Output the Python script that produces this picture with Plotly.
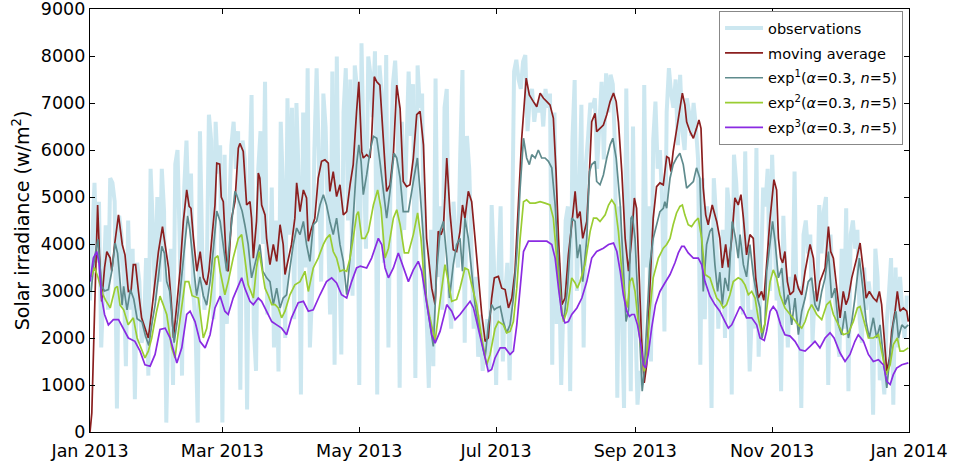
import pandas as pd
import plotly.graph_objects as go

# ---------------- data ----------------
START = "2013-01-01"

obs_jan = [2800, 4200, 5300, 3600, 4900, 1800, 3400, 4400, 2600, 5400, 5300, 4900, 500, 4600, 4200, 3300,
           1400, 4500, 2600, 3900, 700, 3600, 3200, 1900, 2100, 3700, 1200, 5600, 4400, 2800, 5000]
obs_feb = [3200, 5600, 4700, 200, 2600, 3900, 1000, 5700, 6000, 4000, 1200, 5200, 6200, 4600, 5500, 3000,
           2300, 200, 6400, 3900, 2600, 3200, 6750, 6200, 2400, 6600, 5500, 6100]
obs_mar = [200, 5900, 2300, 4600, 6100, 6600, 5600, 6400, 900, 6200, 5800, 480, 5200, 7170, 2200, 1300,
           5600, 6400, 4000, 7450, 2500, 3000, 5200, 1800, 4500, 1290, 6600, 5200, 2000, 7100, 4200]
obs_apr = [6900, 2400, 7000, 5400, 800, 6800, 3500, 7740, 1800, 3000, 6000, 7740, 5800, 3200, 7200, 6500,
           4600, 2500, 7670, 1430, 7990, 3900, 1650, 6800, 7740, 4500, 7500, 2900, 7800, 7300]
obs_may = [1000, 8270, 5800, 3900, 7990, 7600, 6700, 8100, 800, 7800, 7200, 3600, 8020, 1800, 5600, 7400,
           7900, 6800, 940, 6600, 4300, 5800, 7670, 6300, 7400, 1150, 7800, 6900, 7200, 3100, 2500]
obs_jun = [940, 4300, 1400, 7520, 3300, 4800, 2600, 6900, 7300, 3000, 2200, 4900, 4100, 3500, 5900, 7700,
           1900, 6300, 5600, 4200, 2200, 3300, 1600, 2500, 1300, 1800, 2400, 1300, 4830, 3600]
obs_jul = [1000, 3400, 4800, 1500, 2900, 3600, 1100, 3800, 7670, 7920, 7500, 7300, 7880, 8020, 6400, 7100,
           7300, 6600, 7000, 6800, 7200, 6500, 7300, 6900, 7200, 1430, 6800, 2300, 3600, 1000, 2600]
obs_aug = [4500, 4800, 870, 6200, 7490, 3000, 5200, 6960, 1800, 5700, 6300, 7000, 6900, 7100, 5600, 6400,
           7450, 5800, 7630, 6800, 7600, 7400, 6000, 730, 4800, 2600, 510, 7310, 3500, 870, 6500]
obs_sep = [2500, 580, 1300, 1000, 7380, 3500, 4800, 1500, 6200, 7030, 5600, 6000, 4900, 2140, 6800, 7740,
           7200, 6900, 7500, 6100, 7600, 6400, 6000, 7100, 6800, 6300, 7000, 6500, 5800, 1430]
obs_oct = [5400, 2400, 4800, 3900, 510, 5400, 4600, 2200, 3100, 4300, 2000, 5200, 4700, 800, 5900, 5300,
           4200, 3600, 2500, 5970, 3400, 1290, 2600, 2200, 6040, 1600, 3300, 5200, 4800, 5600, 3000]
obs_nov = [5900, 4400, 2800, 3100, 870, 4600, 3400, 1800, 3300, 2600, 5540, 2300, 3100, 510, 4200, 4500,
           3800, 4200, 1900, 3000, 2600, 4830, 3800, 4700, 5000, 1000, 4200, 3200, 2900, 2000]
obs_dec = [1600, 3900, 2200, 4760, 870, 4200, 4500, 3900, 4300, 2400, 1900, 3500, 2600, 3200, 2800, 370,
           3900, 3300, 1100, 1400, 800, 2300, 2900, 3700, 580, 3500, 1800, 3300, 2600, 2000, 2900]

# (day of year, value) samples of the smoothed curves
moving_avg = [(0, 0), (0.8, 400), (2, 2500), (3.4, 4830), (4.2, 3800), (5.2, 2780), (6.5, 3500), (7.5, 3840),
    (9, 3700), (9.7, 3420), (11, 4000), (12.7, 4620), (14.4, 3980), (15.6, 3770), (17.1, 2990), (18.3, 3000),
    (19.3, 3560), (20.3, 3560), (21.6, 2990), (23, 2430), (24.5, 2210), (26, 2000), (27.5, 2570), (29, 3200),
    (30.5, 3840), (32.3, 4370), (33.5, 3980), (35, 3490), (36.1, 2850), (37.2, 2000), (38.7, 2710),
    (40.1, 3420), (41.6, 4480), (43.1, 5150), (44.2, 4800), (45, 4760), (46.1, 4120), (47.6, 3420),
    (49.1, 3840), (50.5, 3280), (52, 3130), (53, 3420), (54.3, 4120), (55.7, 4830), (56.5, 5720),
    (57.8, 5700), (58.5, 5000), (59.4, 4900), (60.9, 3490), (61.6, 3420), (63.1, 4550), (64.6, 4900),
    (66.1, 6040), (66.8, 6140), (68.3, 5970), (69, 5470), (69.8, 4830), (71.3, 4900), (72, 4550),
    (72.8, 3700), (74.2, 4480), (75, 5510), (75.7, 5400), (76.5, 4830), (78, 4620), (78.7, 4120),
    (80.2, 3560), (81.7, 3990), (83.2, 3630), (84.7, 4410), (86.1, 3990), (86.9, 3350), (88.4, 3700),
    (89.8, 3990), (91.3, 4550), (92.1, 5300), (93.6, 4690), (95.1, 5150), (96.5, 4980), (97.3, 4060),
    (98.5, 4300), (100.2, 4550), (101.7, 5400), (103.2, 5760), (104.7, 5790), (106.2, 5720), (106.9, 5120),
    (108.4, 5540), (109.9, 5010), (111.4, 5260), (112.9, 4620), (114.4, 4690), (115.9, 5260), (117.3, 5690),
    (118.8, 6820), (119.8, 7450), (121.1, 5970), (121.8, 5830), (123.3, 5900), (124.8, 5830), (125.5, 6250),
    (126.7, 7560), (127.8, 7450), (129.2, 7380), (130.7, 6250), (132.2, 5120), (133.7, 5260), (135.2, 5900),
    (136.7, 7380), (138.2, 6880), (139.6, 5330), (141.1, 5220), (142.6, 5260), (144.1, 5830), (145.6, 6750),
    (147.1, 6820), (148.6, 6110), (150, 4120), (152.3, 3060), (153.8, 2710), (155.2, 4270), (156.4, 4200),
    (157.5, 4340), (159, 5830), (160.4, 4690), (161.9, 3880), (163.4, 3840), (164.9, 4270), (166, 4830),
    (167.1, 4550), (168.6, 5120), (170.1, 4900), (171.6, 4120), (173.1, 3280), (174.6, 2500), (176.1, 1930),
    (177.5, 2000), (179, 2850), (180.2, 3280), (182, 3310), (183.5, 3060), (185, 3030), (186.5, 2640),
    (188, 2850), (189.4, 3420), (190.9, 4830), (192.4, 6250), (194.4, 7530), (195.8, 7170), (197.6, 7030),
    (199.1, 6920), (200.6, 7210), (202.1, 7100), (203.6, 7030), (205, 6960), (206.5, 6680), (207.7, 5540),
    (208.8, 4120), (210.3, 2710), (211.7, 2850), (213.2, 3770), (214.7, 4410), (216.2, 5120), (217.2, 4550),
    (218.4, 4690), (219.6, 4120), (221.4, 4480), (222.6, 5540), (223.6, 6600), (225.1, 6780), (225.8, 6390),
    (227.3, 6460), (228.8, 6530), (230.3, 6750), (231.8, 7030), (233.3, 7210), (234.5, 7030), (235.5, 6600),
    (237, 5540), (238.5, 4120), (240, 3420), (241.4, 4120), (242.6, 4980), (243.6, 4760), (244.6, 3420),
    (245.8, 2000), (247, 1045), (248.1, 1430), (249.5, 3060), (251, 4550), (252.5, 5220), (254, 5300),
    (255.5, 5260), (257, 5860), (258, 5830), (258.9, 5540), (259.9, 5970), (261.4, 6460), (262.9, 6960),
    (264, 7210), (265.1, 6960), (265.9, 6600), (267.4, 6390), (268.9, 6250), (270.3, 6460), (271.4, 6640),
    (272.3, 6460), (273.3, 5190), (274.4, 4620), (275.5, 4410), (277.3, 4830), (279.3, 4480), (280.7, 4120),
    (281.8, 3490), (283.3, 3990), (284.5, 3500), (286, 4120), (287.4, 4980), (288.9, 4830), (290.1, 5050),
    (291.2, 4550), (292.6, 3770), (294.1, 4200), (295.6, 4120), (296.7, 3280), (297.8, 2850), (299.3, 2990),
    (300.3, 2800), (301.6, 3600), (303, 4500), (304.8, 5370), (306, 5150), (306.8, 4120), (307.8, 3700),
    (308.7, 3600), (309.7, 3840), (310.8, 3200), (312, 2920), (313.5, 2990), (314.2, 3350), (315.7, 3060),
    (317.2, 2920), (318.7, 3420), (320.9, 3990), (322.4, 3700), (323.9, 2780), (325.3, 3200), (327.6, 3490),
    (329.1, 4370), (330.1, 3840), (331.3, 3700), (333.1, 2990), (334.3, 2430), (335.7, 2990), (336.9, 2710),
    (338, 2850), (339.5, 3280), (341.7, 3700), (343.2, 4020), (344.7, 3420), (345.9, 2850), (347.3, 2990),
    (349.1, 2850), (350.6, 2780), (351.8, 2990), (352.8, 2710), (353.9, 2000), (355.1, 1290), (356.3, 1575),
    (357.3, 2140), (358.8, 2570), (359.8, 2990), (361, 2570), (362.5, 2640), (364, 2570), (364.7, 2350)]

exp1 = [(0.5, 3000), (2, 3700), (3.5, 4100), (5.2, 3100), (6.5, 3000), (8.2, 3030), (9.7, 3420), (11.2, 4020),
    (12.3, 3800), (14.3, 2700), (15, 3100), (16.5, 2600), (18, 3030), (19.5, 2830), (21, 2410), (23.2, 2340),
    (24.7, 2050), (26.2, 1840), (27.7, 2340), (29, 2700), (30.5, 3300), (32, 3950), (33.2, 3800), (34.2, 3200),
    (35.5, 3000), (36.5, 2400), (37.5, 1900), (39, 2400), (40.5, 3100), (42, 3800), (43.5, 4600), (44.5, 4300),
    (46, 3600), (47.5, 2900), (49, 3300), (50.5, 2900), (52, 2700), (53.5, 3200), (55, 3900), (56.5, 4700),
    (58, 4480), (59.4, 3990), (60.9, 3420), (62.4, 4120), (64.6, 5120), (65.3, 5050), (66.8, 4830),
    (67.8, 4700), (69, 4410), (70.5, 3990), (72, 3280), (73.5, 3560), (75, 3840), (75.7, 3990), (77, 3420),
    (78.7, 3280), (80.2, 3200), (81.7, 2710), (83.2, 3060), (84.7, 2640), (86.1, 2850), (87.6, 2920),
    (89.1, 3490), (90.6, 3990), (92.1, 4340), (93.6, 4200), (95.1, 4480), (96.5, 3990), (98, 3630),
    (99.5, 4410), (101, 4480), (102.5, 4830), (104, 5050), (105.4, 4830), (106.9, 4480), (108.4, 4200),
    (109.9, 4550), (111.4, 3990), (112.9, 3630), (114.4, 2920), (115.9, 3700), (117.3, 4550), (118.8, 5690),
    (119.8, 6110), (120.8, 5760), (121.8, 5050), (123.3, 5470), (124.8, 5970), (126.3, 6290), (127.8, 6250),
    (129.2, 5760), (130.7, 5120), (132.2, 4550), (133.7, 5120), (135.5, 5930), (136.7, 5830), (138.2, 5400),
    (139.6, 4690), (141.9, 4690), (144.1, 5330), (145.9, 5830), (147.1, 5120), (148.6, 4120), (150, 2780),
    (151.5, 2280), (153, 1820), (154.5, 3420), (156, 4270), (157.5, 4480), (159, 3700), (160.2, 2850),
    (161.9, 3560), (163.4, 3990), (164.9, 4120), (166, 3420), (167.1, 4550), (168.6, 4120), (170.1, 3420),
    (171.6, 2710), (173.1, 2280), (174.6, 1930), (176.1, 1575), (177.5, 2280), (179, 2710), (180.2, 2600),
    (181.3, 2640), (182.8, 2670), (184.2, 2350), (185.7, 2110), (187.2, 2280), (188.7, 2850), (190.2, 3770),
    (191.7, 5190), (193.2, 6250), (194.6, 5830), (195.8, 5690), (196.9, 5900), (198.4, 5830), (199.8, 6000),
    (201.3, 5830), (202.8, 5830), (204.3, 5760), (205.8, 5620), (207.3, 4830), (208.8, 3560), (210.3, 2500),
    (211.3, 2430), (212.8, 3060), (214.7, 4550), (216.2, 4480), (217.2, 3700), (218.4, 3990), (219.6, 3200),
    (221.4, 4120), (222.6, 5540), (223.6, 5690), (225.1, 5760), (225.8, 5330), (227.3, 5260), (228.8, 5470),
    (230.3, 5830), (231.8, 6110), (233, 6250), (234.5, 5830), (236.3, 4830), (237.7, 3420), (238.9, 2350),
    (240, 2600), (241.1, 4550), (241.7, 4600), (242.9, 4120), (244, 2990), (245.1, 1860), (246.1, 870),
    (247, 1290), (248.1, 2280), (249.5, 3560), (251, 4120), (252.5, 4410), (254, 4690), (255.5, 4760),
    (256.2, 4900), (257, 4760), (258.5, 5400), (259.9, 5690), (261.4, 5830), (262.9, 5930), (264.4, 5690),
    (265.9, 5190), (267.4, 5260), (268.9, 5330), (270.3, 5620), (271.8, 5400), (273.3, 2990), (274.8, 3990),
    (276.3, 4270), (277.3, 4340), (278.5, 3560), (279.7, 2990), (280.7, 3400), (281.8, 2710), (283, 3280),
    (284.5, 3000), (286.2, 4480), (287.7, 4120), (288.9, 3700), (289.7, 4200), (291.2, 3560), (292.6, 3300),
    (294.1, 3990), (295.6, 3350), (297.1, 2920), (298.6, 2640), (299.5, 2000), (300.8, 2300), (301.6, 3420),
    (303.1, 4120), (304.2, 4480), (305.3, 4060), (306.8, 3280), (308.3, 3490), (309.7, 2710), (311.2, 2920),
    (312.7, 2280), (314.2, 2850), (315.7, 2070), (317.2, 2570), (318.7, 2850), (320.1, 3200), (321.6, 3280),
    (323.1, 2710), (324.6, 2570), (326.1, 2990), (327.6, 3280), (329.1, 3840), (330.5, 2850), (332, 3060),
    (333.5, 2280), (335, 2070), (336.5, 2570), (338, 2000), (339.5, 2350), (340.9, 2850), (342.9, 3700),
    (344.4, 3060), (345.9, 2350), (347.3, 2000), (349.1, 2430), (350.6, 2000), (352.1, 2280), (353.6, 1575),
    (355.1, 940), (356.6, 1650), (358, 2280), (359.2, 2570), (360.3, 2000), (361.8, 2280), (363.2, 2210),
    (364.7, 2280)]

exp2 = [(0.5, 3300), (2, 3500), (3.5, 3300), (5.5, 2950), (7, 2800), (9, 2640), (11.2, 3060), (12.2, 3100),
    (13.4, 2700), (15, 2600), (17, 2280), (19.3, 2430), (21, 2000), (22.5, 1800), (24.5, 1575), (26, 1720),
    (27.5, 2000), (29.7, 2570), (31.2, 2890), (32.7, 2700), (34.2, 2500), (36.4, 1790), (37.9, 1575),
    (39.4, 2140), (40.9, 2710), (42.4, 3200), (44, 3200), (45.5, 2900), (48.3, 2850), (50.5, 2000),
    (52, 2200), (53.5, 2710), (55.7, 3700), (57, 3750), (58, 3420), (60.1, 2920), (61.6, 3200), (63.8, 3700),
    (66.1, 4120), (67.6, 4200), (69, 3700), (70.5, 3130), (72.8, 2850), (74.2, 3490), (75.4, 3840),
    (76.5, 3500), (78, 3060), (79.5, 2900), (81, 2710), (82.5, 2710), (83.9, 2640), (85.4, 2430), (86.9, 2570),
    (89.1, 2920), (91.3, 3130), (93.6, 3200), (95.8, 3420), (97.3, 2990), (99.5, 3490), (101.7, 3700),
    (104, 3990), (105.4, 4120), (106.9, 4200), (108.4, 3840), (109.9, 3700), (111.4, 3420), (112.9, 3450),
    (114.4, 3420), (115.9, 3700), (117.3, 4120), (118.8, 4620), (119.6, 4690), (121.1, 4120), (122.6, 4120),
    (124.1, 4270), (126.3, 4830), (128.2, 5150), (129.7, 4760), (131.5, 3700), (133, 3910), (135.2, 4550),
    (136.7, 4730), (138.2, 4410), (140.1, 3810), (141.9, 3810), (144.1, 4200), (146, 4660), (147.5, 4120),
    (149.3, 2990), (151.5, 2430), (153.8, 1930), (156, 2780), (158.2, 3560), (159.7, 3200), (161.2, 2780),
    (163.4, 2820), (164.9, 3060), (167.1, 3490), (168.6, 3450), (170.1, 3130), (172.3, 2710), (174.6, 2000),
    (176.8, 1430), (178.3, 1650), (180.5, 2200), (182, 2350), (184.2, 2280), (185.7, 2110), (187.2, 2140),
    (188.7, 2350), (190.2, 3060), (191.7, 4120), (193.2, 4900), (194.6, 4940), (196.1, 4870), (198.4, 4870),
    (200.6, 4900), (202.8, 4870), (205, 4830), (206.5, 4550), (208, 3700), (209.5, 2850), (211, 2350),
    (212.5, 2570), (214.7, 3280), (216.2, 3170), (217.2, 3060), (218.4, 3200), (220.6, 3560), (222.9, 4270),
    (224.4, 4550), (225.8, 4550), (227.3, 4480), (229.6, 4620), (231.1, 4830), (232.5, 4940), (234, 4830),
    (235.5, 4270), (237, 3420), (238.5, 2850), (239.5, 2650), (240.6, 3200), (241.7, 3280), (242.9, 2990),
    (244.3, 2350), (245.8, 1650), (247, 1290), (248.1, 1575), (249.5, 2570), (251, 3280), (253.3, 3700),
    (255.5, 3910), (257, 3990), (258.5, 4120), (259.9, 4410), (261.4, 4660), (262.9, 4800), (264, 4830),
    (265.1, 4620), (266.6, 4410), (268.1, 4370), (269.6, 4480), (271.1, 4550), (272.6, 4120), (274.1, 3350),
    (276.3, 3280), (277.8, 3060), (279.3, 2850), (280.7, 2780), (282.2, 2640), (283.7, 2710), (285.2, 2920),
    (286.7, 3200), (288.9, 3280), (290.4, 3240), (291.9, 3130), (293.4, 2920), (294.9, 2990), (296.4, 2850),
    (297.8, 2430), (299.3, 2110), (300.8, 2300), (303.1, 3200), (304.5, 3450), (306, 3280), (307.5, 2920),
    (309.7, 2640), (312, 2500), (313.5, 2430), (315.7, 2280), (317.2, 2210), (318.7, 2350), (320.1, 2570),
    (321.6, 2710), (323.9, 2500), (326.1, 2390), (328.3, 2710), (329.8, 2780), (331.3, 2500), (333.5, 2280),
    (335.7, 2070), (338, 2110), (340.2, 2350), (342, 2640), (343.2, 2670), (345, 2350), (346.9, 2000),
    (349.1, 2000), (351.4, 2070), (352.8, 1720), (354.8, 1220), (356.6, 1430), (358, 1860), (359.8, 2000),
    (361, 1720), (362.5, 1720), (364.7, 1790)]

exp3 = [(0, 3200), (1.5, 3700), (3, 3840), (4, 3600), (5.2, 2850), (6.5, 2500), (8.2, 2280), (10.4, 2390),
    (12.7, 2390), (14.9, 2210), (17.1, 2000), (20, 1930), (22.3, 1720), (24.5, 1430), (26.8, 1400), (29, 1650),
    (31.2, 2180), (33.5, 2210), (35.7, 2000), (38.7, 1470), (40.9, 1790), (43.1, 2500), (44.6, 2570),
    (46.8, 2350), (49, 1930), (51.3, 1790), (53.5, 2070), (55.7, 2640), (58, 2890), (60.1, 2570), (61.6, 2500),
    (63.8, 2850), (66.1, 3130), (67.6, 3280), (69, 3060), (71.3, 2780), (72.8, 2710), (75, 2850), (76.5, 2780),
    (78.7, 2570), (81, 2350), (83.2, 2280), (85.4, 2210), (87.6, 2070), (89.8, 2430), (92.8, 2750),
    (95.1, 2780), (97.3, 2570), (99.5, 2600), (102.5, 2920), (105.4, 3200), (107.7, 3280), (109.9, 3170),
    (112.1, 2920), (114.4, 2850), (116.6, 3200), (118.8, 3490), (120.5, 3530), (123.3, 3490), (125.5, 3700),
    (128.5, 4120), (130, 3990), (131.5, 3490), (133, 3280), (135.2, 3490), (137.4, 3810), (139.6, 3490),
    (141.9, 3200), (144.1, 3450), (146.3, 3630), (147.8, 3420), (150, 2710), (152.3, 2070), (153.8, 1890),
    (156, 2140), (159, 2710), (161.2, 2570), (162.7, 2390), (164.9, 2500), (167.1, 2640), (169.4, 2780),
    (170.9, 2640), (173.1, 2210), (175.3, 1720), (177.5, 1290), (179, 1330), (180.5, 1575), (182.8, 1790),
    (185, 1790), (187.2, 1650), (188.7, 1720), (190.2, 2280), (191.7, 3130), (193.2, 3840), (195.4, 4060),
    (199.1, 4060), (203.6, 4060), (205.8, 3990), (207.3, 3700), (208.8, 3060), (210.3, 2500), (211.7, 2320),
    (213.2, 2350), (214.7, 2500), (217, 2640), (219.2, 2850), (221.4, 3200), (223.6, 3700), (225.8, 3840),
    (228.8, 3910), (231.1, 3990), (233.3, 4020), (234.8, 3840), (236.3, 3420), (237.7, 2920), (239.2, 2570),
    (240.4, 2460), (241.4, 2500), (242.6, 2500), (244, 2280), (245.5, 1860), (246.6, 1430), (247.6, 1360),
    (248.8, 1650), (250.3, 2210), (252, 2710), (254, 2990), (256.2, 3170), (258.5, 3350), (260.7, 3600),
    (262.2, 3810), (263.7, 3950), (264.8, 3950), (266.6, 3810), (268.9, 3700), (271.1, 3700), (272.6, 3560),
    (274.1, 3200), (276.3, 2890), (278.5, 2710), (280.7, 2570), (283, 2350), (284.5, 2210), (286, 2280),
    (288.2, 2500), (289.7, 2670), (291.2, 2570), (292.6, 2430), (294.9, 2430), (297.1, 2280), (298.6, 2000),
    (300.5, 1950), (301.5, 2140), (303.1, 2570), (304.5, 2670), (306, 2570), (307.8, 2280), (309.7, 2070),
    (312, 2040), (314.2, 1930), (316.4, 1750), (318.7, 1720), (320.9, 1820), (323.1, 1930), (325.3, 1790),
    (327.6, 2000), (329.8, 2110), (331.6, 2000), (334.3, 1680), (336.5, 1500), (338.7, 1650), (340.9, 1930),
    (342.4, 2070), (344.7, 1930), (346.9, 1650), (349.1, 1500), (351.4, 1540), (353.6, 1430), (355.1, 1080),
    (356.6, 1010), (358, 1220), (359.5, 1360), (361.8, 1430), (364.7, 1470)]

tick_dates = ["2013-01-01", "2013-03-01", "2013-05-01", "2013-07-01", "2013-09-01", "2013-11-01", "2014-01-01"]
tick_labels = ["Jan 2013", "Mar 2013", "May 2013", "Jul 2013", "Sep 2013", "Nov 2013", "Jan 2014"]

# ---------------- build ----------------
observations = (obs_jan + obs_feb + obs_mar + obs_apr + obs_may + obs_jun +
                obs_jul + obs_aug + obs_sep + obs_oct + obs_nov + obs_dec)
obs_dates = pd.date_range(START, periods=len(observations), freq="D")
base = pd.Timestamp(START)


def to_xy(samples):
    days = [d for d, _ in samples]
    vals = [v for _, v in samples]
    return base + pd.to_timedelta(days, unit="D"), vals


FONT = "DejaVu Sans"
fig = go.Figure()
fig.add_trace(go.Scatter(x=obs_dates, y=observations, mode="lines", name="observations", legendgroup="g0",
                         line=dict(color="rgba(173,216,230,0.62)", width=4)))
series = [
    (moving_avg, "moving average", "#8b1f1f"),
    (exp1, "exp<sup>1</sup>(<i>α</i>=0.3, <i>n</i>=5)", "#5f8b8d"),
    (exp2, "exp<sup>2</sup>(<i>α</i>=0.3, <i>n</i>=5)", "#9acd32"),
    (exp3, "exp<sup>3</sup>(<i>α</i>=0.3, <i>n</i>=5)", "#8a2be2"),
]
for i, (samples, name, color) in enumerate(series, start=1):
    x, y = to_xy(samples)
    fig.add_trace(go.Scatter(x=x, y=y, mode="lines", name=name, legendgroup=f"g{i}",
                             line=dict(color=color, width=1.7)))

axis_common = dict(showline=True, linecolor="black", linewidth=1.2, mirror="ticks", ticks="inside",
                   ticklen=5, tickcolor="black", showgrid=False, zeroline=False, automargin=False,
                   ticklabeloverflow="allow",
                   tickfont=dict(family=FONT, size=17.5, color="black"))
fig.update_layout(
    width=953, height=466,
    margin=dict(l=90, r=44, t=9, b=34, autoexpand=False),
    paper_bgcolor="white", plot_bgcolor="white",
    font=dict(family=FONT, color="black"),
    xaxis=dict(range=["2013-01-01", "2014-01-01"], tickvals=tick_dates, ticktext=tick_labels,
               ticklabelstandoff=3, **axis_common),
    yaxis=dict(range=[0, 9000], dtick=1000, tick0=0,
               title=dict(text="Solar irradiance (w/m<sup>2</sup>)", font=dict(family=FONT, size=19), standoff=6),
               **axis_common),
    legend=dict(x=0.9927, y=0.995, xanchor="right", yanchor="top", bgcolor="white",
                bordercolor="#888888", borderwidth=1, font=dict(family=FONT, size=14.5), itemwidth=38,
                tracegroupgap=3),
    showlegend=True,
)

fig.write_html("out.html")
